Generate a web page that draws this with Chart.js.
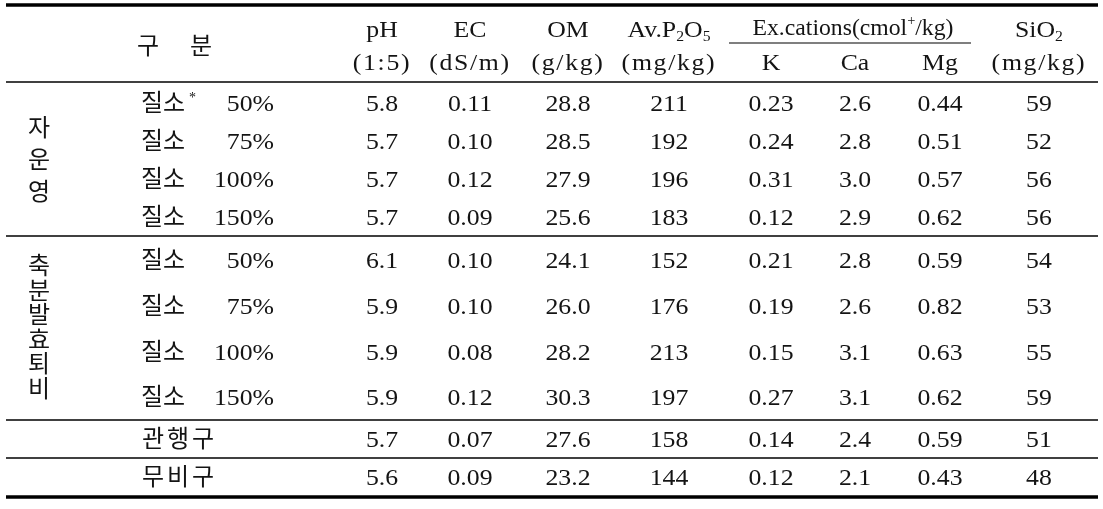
<!DOCTYPE html>
<html>
<head>
<meta charset="utf-8">
<script src="https://cdn.jsdelivr.net/npm/chart.js@4"></script>
<style>
  html, body { margin: 0; padding: 0; background: #fff; }
  canvas { display: block; }
</style>
</head>
<body>
<canvas id="table" width="1103" height="509"></canvas>
<script>
// table values, one array per column
const groups = ['자운영', '축분발효퇴비'];
const nRates = ['50%', '75%', '100%', '150%', '50%', '75%', '100%', '150%'];
const otherPlots = ['관행구', '무비구'];

const ph = [5.8, 5.7, 5.7, 5.7, 6.1, 5.9, 5.9, 5.9, 5.7, 5.6];
const ec = [0.11, 0.10, 0.12, 0.09, 0.10, 0.10, 0.08, 0.12, 0.07, 0.09];
const om = [28.8, 28.5, 27.9, 25.6, 24.1, 26.0, 28.2, 30.3, 27.6, 23.2];
const p2o5 = [211, 192, 196, 183, 152, 176, 213, 197, 158, 144];
const exK = [0.23, 0.24, 0.31, 0.12, 0.21, 0.19, 0.15, 0.27, 0.14, 0.12];
const exCa = [2.6, 2.8, 3.0, 2.9, 2.8, 2.6, 3.1, 3.1, 2.4, 2.1];
const exMg = [0.44, 0.51, 0.57, 0.62, 0.59, 0.82, 0.63, 0.62, 0.59, 0.43];
const sio2 = [59, 52, 56, 56, 54, 53, 55, 59, 51, 48];

// layout (in scale units)
const rowPos = [103, 141, 179, 217, 260, 306, 352, 397, 439, 477];
const rules = [[5, 3.5], [82, 1.3], [236, 1.3], [420, 1.3], [458, 1.3], [497, 3.5]];
const colPos = { ph: 382, ec: 470, om: 568, p: 669, k: 771, ca: 855, mg: 940, si: 1039 };

const SERIF = "'Liberation Serif', 'Noto Sans CJK KR', serif";
const HANGUL = "'Noto Sans CJK KR', sans-serif";
const INK = '#141414';
const SIZE = 23;
const STRETCH = 1.12;

const columns = [
  { key: 'ph', values: ph, digits: 1 },
  { key: 'ec', values: ec, digits: 2 },
  { key: 'om', values: om, digits: 1 },
  { key: 'p', values: p2o5, digits: 0 },
  { key: 'k', values: exK, digits: 2 },
  { key: 'ca', values: exCa, digits: 1 },
  { key: 'mg', values: exMg, digits: 2 },
  { key: 'si', values: sio2, digits: 0 }
];

// serif text, widened a little to look like the original Batang figures
function serif(ctx, str, x, y, align, spacing) {
  ctx.save();
  ctx.translate(x, y);
  ctx.scale(STRETCH, 1);
  ctx.font = SIZE + 'px ' + SERIF;
  ctx.letterSpacing = spacing || '0px';
  ctx.textAlign = align || 'center';
  ctx.fillText(str, 0, 0);
  ctx.restore();
}

function rich(ctx, segs, cx, base, stretch) {
  const small = Math.round(SIZE * 0.62);
  let w = 0;
  segs.forEach(s => {
    ctx.font = (s.sub || s.sup ? small : SIZE) + 'px ' + SERIF;
    s.w = ctx.measureText(s.t).width;
    w += s.w;
  });
  ctx.save();
  ctx.translate(cx, base);
  ctx.scale(stretch || STRETCH, 1);
  let x = -w / 2;
  ctx.textAlign = 'left';
  segs.forEach(s => {
    ctx.font = (s.sub || s.sup ? small : SIZE) + 'px ' + SERIF;
    const dy = s.sub ? SIZE * 0.18 : s.sup ? -SIZE * 0.42 : 0;
    ctx.fillText(s.t, x, dy);
    x += s.w;
  });
  ctx.restore();
}

const tablePlugin = {
  id: 'tablePlugin',
  afterDatasetsDraw(chart) {
    const ctx = chart.ctx;
    const xs = chart.scales.x, ys = chart.scales.y;
    const X = v => xs.getPixelForValue(v);
    const Y = v => ys.getPixelForValue(v);
    ctx.save();
    ctx.fillStyle = INK;
    ctx.textBaseline = 'alphabetic';

    // horizontal rules
    ctx.strokeStyle = '#000';
    rules.forEach(([y, w]) => {
      ctx.lineWidth = w;
      ctx.beginPath();
      ctx.moveTo(X(6), Y(y));
      ctx.lineTo(X(1098), Y(y));
      ctx.stroke();
    });
    ctx.lineWidth = 1.2;
    ctx.beginPath();
    ctx.moveTo(X(729), Y(43));
    ctx.lineTo(X(971), Y(43));
    ctx.stroke();

    // header
    const top = 37, bot = 70;
    ctx.font = '24px ' + HANGUL;
    ctx.textAlign = 'center';
    ctx.fillText('구', X(148), Y(54));
    ctx.fillText('분', X(201), Y(54));
    const head = [
      ['ph', 'pH', '(1:5)'],
      ['ec', 'EC', '(dS/m)'],
      ['om', 'OM', '(g/kg)'],
      ['p', null, '(mg/kg)'],
      ['k', null, 'K'],
      ['ca', null, 'Ca'],
      ['mg', null, 'Mg'],
      ['si', null, '(mg/kg)']
    ];
    head.forEach(([key, a, b]) => {
      if (a) serif(ctx, a, X(colPos[key]), Y(top));
      serif(ctx, b, X(colPos[key]), Y(bot), 'center', b.startsWith('(') ? '1.5px' : '0px');
    });
    rich(ctx, [{ t: 'Av.P' }, { t: '2', sub: true }, { t: 'O' }, { t: '5', sub: true }], X(colPos.p), Y(top));
    rich(ctx, [{ t: 'SiO' }, { t: '2', sub: true }], X(colPos.si), Y(top));
    rich(ctx, [{ t: 'Ex.cations(cmol' }, { t: '+', sup: true }, { t: '/kg)' }], X(853), Y(top - 2), 1.03);

    // row labels
    nRates.forEach((r, i) => {
      const y = Y(rowPos[i] + 8);
      ctx.textAlign = 'left';
      ctx.font = '24px ' + HANGUL;
      ctx.fillText('질소', X(141), y);
      serif(ctx, r, X(274), y, 'right');
      if (i === 0) {
        ctx.textAlign = 'left';
        ctx.font = '14px ' + SERIF;
        ctx.fillText('*', X(189), Y(rowPos[i] - 1));
      }
    });
    otherPlots.forEach((name, j) => {
      ctx.font = '24px ' + HANGUL;
      ctx.textAlign = 'center';
      [...name].forEach((ch, k) => ctx.fillText(ch, X(153 + k * 25), Y(rowPos[8 + j] + 8)));
    });

    // vertical group labels
    ctx.textAlign = 'center';
    ctx.font = '24px ' + HANGUL;
    [...groups[0]].forEach((ch, k) => ctx.fillText(ch, X(39), Y(128 + k * 32 + 8)));
    [...groups[1]].forEach((ch, k) => ctx.fillText(ch, X(39), Y(266 + k * 24.6 + 8)));

    // cell values, placed at each dataset point
    chart.data.datasets.forEach((ds, di) => {
      const meta = chart.getDatasetMeta(di);
      meta.data.forEach((pt, i) => {
        serif(ctx, ds.data[i].v.toFixed(ds.digits), pt.x, pt.y + 8);
      });
    });
    ctx.restore();
  }
};

new Chart(document.getElementById('table'), {
  type: 'scatter',
  data: {
    datasets: columns.map(c => ({
      label: c.key,
      digits: c.digits,
      data: c.values.map((v, i) => ({ x: colPos[c.key], y: rowPos[i], v })),
      pointRadius: 0,
      pointHoverRadius: 0
    }))
  },
  options: {
    responsive: false,
    animation: false,
    devicePixelRatio: 1,
    layout: { padding: 0 },
    events: [],
    scales: {
      x: { type: 'linear', min: 0, max: 1103, display: false },
      y: { type: 'linear', min: 0, max: 509, reverse: true, display: false }
    },
    plugins: { legend: { display: false }, tooltip: { enabled: false } }
  },
  plugins: [tablePlugin]
});
</script>
</body>
</html>
